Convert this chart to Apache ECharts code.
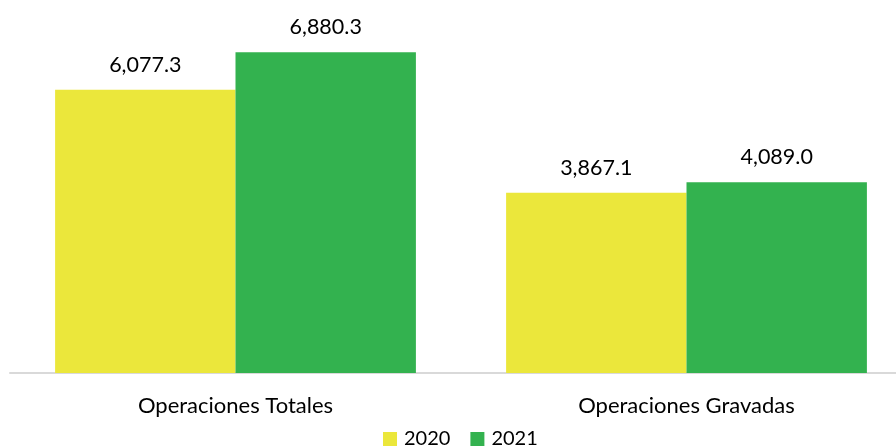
<!DOCTYPE html>
<html>
<head>
<meta charset="utf-8">
<script src="https://cdn.jsdelivr.net/npm/echarts@6/dist/echarts.min.js"></script>
<style>
  html, body { margin: 0; padding: 0; background: #fff; }
  #chart { width: 896px; height: 447px; }
</style>
</head>
<body>
<div id="chart"></div>
<script>
// valores
const categories = ['Operaciones Totales', 'Operaciones Gravadas'];
const years = ['2020', '2021'];
const values2020 = [6077.3, 3867.1];
const values2021 = [6880.3, 4089.0];

const fmt = (v) => v.toLocaleString('en-US', { minimumFractionDigits: 1, maximumFractionDigits: 1 });
const font = 'Lato, "Open Sans", sans-serif';

const labelStyle = {
  show: true,
  position: 'top',
  distance: 14,
  color: '#000',
  fontSize: 21.5,
  fontFamily: font,
  formatter: (p) => fmt(p.value)
};

const chart = echarts.init(document.getElementById('chart'));
chart.setOption({
  animation: false,
  color: ['#EBE73B', '#33B24F'],
  grid: { left: 10, width: 902, top: 0, bottom: 74, outerBoundsMode: 'none', containLabel: false },
  legend: {
    data: years,
    bottom: -7,
    left: 378,
    itemWidth: 14,
    itemHeight: 14,
    itemGap: 20,
    icon: 'rect',
    textStyle: { fontSize: 20, fontFamily: font, color: '#000', padding: [0, 0, 0, 2] }
  },
  xAxis: {
    type: 'category',
    data: categories,
    axisLine: { lineStyle: { color: '#d9d9d9', width: 2 } },
    axisTick: { show: false },
    axisLabel: { fontSize: 22, fontFamily: font, color: '#000', margin: 22 }
  },
  yAxis: {
    type: 'value',
    min: 0,
    max: 8000,
    show: false,
    splitLine: { show: false }
  },
  series: [
    {
      name: years[0],
      type: 'bar',
      data: values2020,
      barGap: 0,
      barCategoryGap: '20%',
      label: labelStyle
    },
    {
      name: years[1],
      type: 'bar',
      data: values2021,
      barGap: 0,
      barCategoryGap: '20%',
      label: labelStyle
    }
  ]
});
</script>
</body>
</html>
